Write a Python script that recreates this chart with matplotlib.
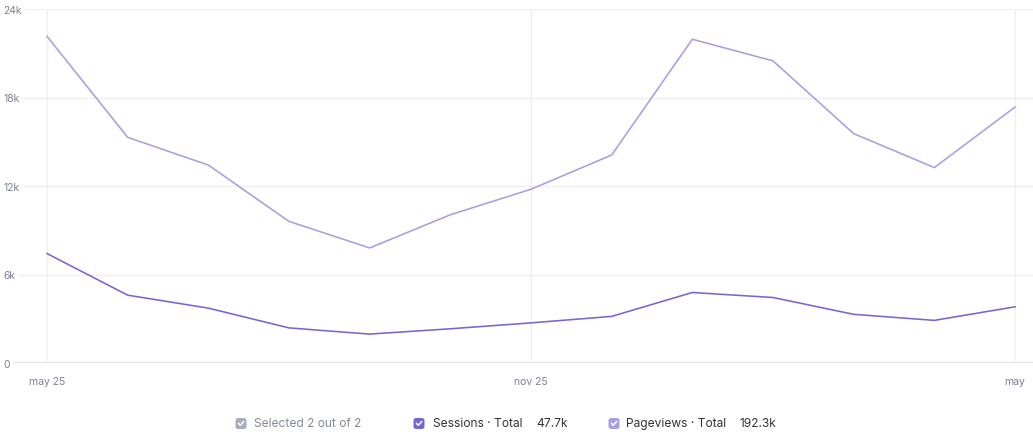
import matplotlib
matplotlib.use("Agg")
import matplotlib.pyplot as plt
from matplotlib.patches import FancyBboxPatch
from matplotlib.lines import Line2D

# monthly values, may 25 .. may 26
months = list(range(13))
pageviews = [22150, 15300, 13420, 9600, 7800, 10050, 11780, 14100, 21950, 20480, 15550, 13250, 17350]
sessions = [7420, 4600, 3720, 2380, 1960, 2320, 2720, 3160, 4780, 4440, 3300, 2890, 3810]

xtick_pos = [0, 6, 12]
xtick_labels = ["may 25", "nov 25", "may"]
ytick_pos = [0, 6000, 12000, 18000, 24000]
ytick_labels = ["0", "6k", "12k", "18k", "24k"]

legend_items = [
    ("Selected 2 out of 2", "", "#a9aebb", "#858a96"),
    ("Sessions · Total", "47.7k", "#7367d6", "#333333"),
    ("Pageviews · Total", "192.3k", "#a79fe2", "#333333"),
]

plt.rcParams["font.family"] = ["Inter", "DejaVu Sans"]

W, H = 1033, 439
fig = plt.figure(figsize=(W / 100, H / 100), dpi=100)
ax = fig.add_axes([0, 1 - 364 / H, 1, (364 - 10) / H])

px = 80.667  # pixels per month
ax.set_xlim(-47 / px, (W - 47) / px)
ax.set_ylim(0, 24000)

ax.plot(months, pageviews, color="#a79fe2", lw=1.15, zorder=3)
ax.plot(months, sessions, color="#7367d6", lw=1.15, zorder=4)
ax.axhline(0, color="#e2e2e6", lw=1.6, zorder=0.4)

ax.set_axisbelow(True)
ax.set_xticks(xtick_pos)
ax.set_xticklabels(xtick_labels)
ax.set_yticks(ytick_pos)
ax.set_yticklabels(ytick_labels)
ax.grid(True, color="#eeeef0", lw=0.9)
for s in ax.spines.values():
    s.set_visible(False)

ax.tick_params(axis="x", length=0, pad=9.5, labelsize=7.5, labelcolor="#7d8294")
ax.tick_params(axis="y", length=0, pad=-2.2, labelsize=7.5, labelcolor="#7d8294")
for lab in ax.get_yticklabels():
    lab.set_horizontalalignment("left")
    lab.set_bbox(dict(facecolor="white", edgecolor="none", pad=2.5))

# legend row at bottom
box_x = [241, 419, 614]
text_x = [254, 433, 626]
val_x = [536, 740]
ly = H - 424.5
for i, (label, val, c, tc) in enumerate(legend_items):
    cx = box_x[i]
    box = FancyBboxPatch(((cx - 4.5) / 100, (ly - 4.5) / 100), 9 / 100, 9 / 100,
                         boxstyle="round,pad=0.01,rounding_size=0.025",
                         transform=fig.dpi_scale_trans, facecolor=c, edgecolor="none")
    fig.add_artist(box)
    chk = Line2D([(cx - 2.6) / 100, (cx - 0.7) / 100, (cx + 2.7) / 100],
                 [(ly + 0.2) / 100, (ly - 1.8) / 100, (ly + 2.0) / 100],
                 transform=fig.dpi_scale_trans, color="white", lw=1.1,
                 solid_capstyle="round", solid_joinstyle="round")
    fig.add_artist(chk)
    fig.text(text_x[i] / W, ly / H, label, fontsize=8.6, color=tc, va="center", ha="left")
    if val:
        fig.text(val_x[i - 1] / W, ly / H, val, fontsize=8.6, color=tc, va="center", ha="left")

fig.savefig("out.png", dpi=100)
